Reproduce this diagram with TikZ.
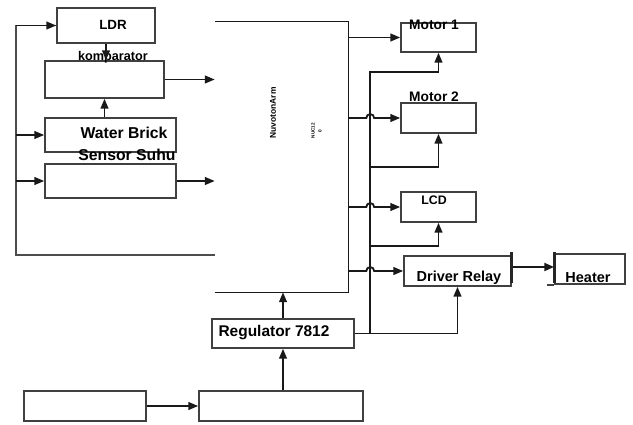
\documentclass[tikz,border=0pt]{standalone}
\usepackage{fontspec}
\setmainfont{Liberation Sans}
\usetikzlibrary{arrows.meta,calc}

\begin{document}
\begin{tikzpicture}[x=0.025cm, y=-0.025cm, >={Triangle[length=7pt,width=5.5pt]},
  box/.style={draw=black!75, line width=1.1pt, inner sep=0pt},
  blk/.style 2 args={box, minimum width=#1, minimum height=#2},
  wire/.style={black!90, line width=1.3pt},
  bar/.style={black!85, line width=2.2pt},
  lbl/.style={font=\bfseries\fontsize{#1}{#1}\selectfont, inner sep=0pt}]
  \useasboundingbox (0,0) rectangle (633,424);

  % Sensor side
  \node[blk={2.45cm}{0.875cm}]  (ldr)   at (106,25.5) {};
  \node[blk={2.975cm}{0.925cm}] (komp)  at (104.5,79.5) {};
  \node[blk={3.275cm}{0.85cm}]  (water) at (110.5,135) {};
  \node[blk={3.275cm}{0.85cm}]  (suhu)  at (110.5,181) {};
  \node[lbl=9.5]  (tldr)   at (113,25)  {LDR};
  \node[lbl=9]    (tkomp)  at (113,57)  {komparator};
  \node[lbl=11.2] (twater) at (124,133) {Water Brick};
  \node[lbl=11.2] (tsuhu)  at (127,155) {Sensor Suhu};

  % Controller
  \node[minimum width=3.325cm, minimum height=6.75cm, inner sep=0pt] (mcu) at (281.5,157) {};
  \draw[box,line width=0.9pt,draw=black!90] (mcu.south west) -- (mcu.south east) -- (mcu.north east) -- (mcu.north west);
  \node[lbl=6, rotate=90]   (tmcu) at (273,113) {NuvotonArm};
  \node[lbl=3.3, rotate=90] (tnuc) at (313,130.5) {NUC12};
  \node[lbl=3.3, rotate=90] (tnuz) at (320,131) {0};

  % Outputs
  \node[blk={1.875cm}{0.725cm}] (motor1) at (438.5,37.5) {};
  \node[blk={1.875cm}{0.75cm}]  (motor2) at (438.5,118) {};
  \node[blk={1.875cm}{0.75cm}]  (lcd)    at (438.5,207) {};
  \node[blk={2.675cm}{0.75cm}]  (relay)  at (457.5,271) {};
  \node[blk={1.75cm}{0.75cm}]   (heater) at (590,269) {};
  \node[lbl=9.8]  (tm1)    at (434,25)  {Motor 1};
  \node[lbl=9.8]  (tm2)    at (434,97)  {Motor 2};
  \node[lbl=8.8]  (tlcd)   at (434,200) {LCD};
  \node[lbl=10.3] (trelay) at (459,278) {Driver Relay};
  \node[lbl=10.3] (theat)  at (588,278) {Heater};

  % Supply
  \node[blk={3.55cm}{0.725cm}] (reg) at (283,333.5) {};
  \node[blk={4.1cm}{0.75cm}]   (psu) at (281,406) {};
  \node[blk={3.05cm}{0.75cm}]  (src) at (85,406) {};
  \node[lbl=11] (treg) at (274,333) {Regulator 7812};

  % Feedback loop
  \coordinate (lp) at (16,255);
  \coordinate (lq) at (215,255);
  \draw[wire,black!70,line width=1.1pt] (lq) -- (lp) |- (ldr.west);
  \draw[wire,->] (lp |- ldr.west) -- (ldr.west);
  \draw[wire,->] (lp |- water.west) -- (water.west);
  \draw[wire,->] (lp |- suhu.west) -- (suhu.west);
  \draw[wire,->] (ldr.south) -- (komp.north -| ldr.south);
  \draw[wire,->] (komp.south |- water.north) -- (komp.south);
  \draw[wire,->] (komp.east) -- (komp.east -| mcu.west);
  \draw[wire,->] (suhu.east) -- (suhu.east -| mcu.west);

  % Controller outputs
  \draw[wire,->] (mcu.east |- motor1.west) -- (motor1.west);
  \draw[wire,->] (mcu.east |- motor2.west) -- ++(18,0)
    arc[start angle=180, end angle=0, radius=2.8pt] -- (motor2.west);
  \draw[wire,->] (mcu.east |- lcd.west) -- ++(18,0)
    arc[start angle=180, end angle=0, radius=2.8pt] -- (lcd.west);
  \draw[wire,->] (mcu.east |- relay.west) -- ++(18,0)
    arc[start angle=180, end angle=0, radius=2.8pt] -- (relay.west);

  % Power bus
  \coordinate (bt) at (370,72);
  \coordinate (b2) at (370,167);
  \coordinate (b3) at (370,246);
  \draw[wire,->] (reg.east) -| (bt) -| (motor1.south);
  \draw[wire,->] (b2) -| (motor2.south);
  \draw[wire,->] (b3) -| (lcd.south);
  \draw[wire,->] (reg.east) -| (relay.south);
  \draw[wire,->] (reg.north) -- (reg.north |- mcu.south);
  \draw[wire,->] (reg.south |- psu.north) -- (reg.south);
  \draw[wire,->] (src.east) -- (psu.west);

  % Relay to heater
  \draw[bar] ($(relay.north east)+(0,-3)$) -- ($(relay.south east)+(0,-4)$);
  \draw[bar] ($(heater.north west)+(0,-1)$) -- ($(heater.south west)+(0,-2)$);
  \draw[box] (heater.south west) -- ++(-7,0);
  \coordinate (rb) at ($(relay.east)+(1,-4)$);
  \draw[wire,line width=1.8pt,->] (rb) -- (rb -| heater.west);
\end{tikzpicture}
\end{document}
